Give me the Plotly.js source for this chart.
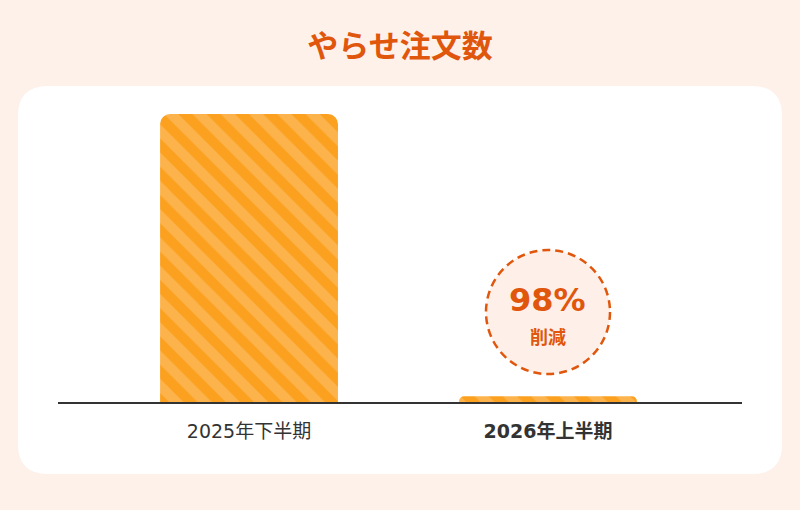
<!DOCTYPE html>
<html>
<head>
<meta charset="utf-8">
<script src="https://cdn.plot.ly/plotly-3.0.1.min.js"></script>
<style>
  html, body { margin: 0; padding: 0; background: #fef1ea; }
  #chart { width: 800px; height: 510px; }
</style>
</head>
<body>
<div id="chart"></div>
<script>
// やらせ注文数 (2025年下半期 = 100 として)
const periods = ["2025年下半期", "2026年上半期"];
const periodLabels = ["2025年下半期", "<b>2026年上半期</b>"];
const orders = [100, 2];
const reduction = "98%";

const ORANGE = "#e0560c";
const MIXED = "DejaVu Sans, Noto Sans CJK JP, sans-serif";

// card corners, in paper units of the plot area (684 x 288 px)
const cx0 = -40 / 684, cx1 = 724 / 684, cy0 = -72 / 288, cy1 = 316 / 288;
const rx = 30 / 684, ry = 30 / 288;
const cardPath =
  `M${cx0 + rx},${cy1} L${cx1 - rx},${cy1} Q${cx1},${cy1} ${cx1},${cy1 - ry} ` +
  `L${cx1},${cy0 + ry} Q${cx1},${cy0} ${cx1 - rx},${cy0} ` +
  `L${cx0 + rx},${cy0} Q${cx0},${cy0} ${cx0},${cy0 + ry} ` +
  `L${cx0},${cy1 - ry} Q${cx0},${cy1} ${cx0 + rx},${cy1} Z`;

const data = [
  {
    type: "bar",
    x: periods,
    y: orders,
    width: 0.595,
    marker: {
      color: "#fba11f",
      cornerradius: 10,
      line: { width: 0 },
      pattern: {
        shape: "\\",
        bgcolor: "#fba11f",
        fgcolor: "#fdb34c",
        size: 20,
        solidity: 0.5,
      },
    },
    hoverinfo: "skip",
  },
];

const layout = {
  width: 800,
  height: 510,
  margin: { l: 58, r: 58, t: 114, b: 108 },
  paper_bgcolor: "#fef1ea",
  plot_bgcolor: "rgba(0,0,0,0)",
  showlegend: false,
  font: { family: "Noto Sans CJK JP, sans-serif", color: "#333" },
  title: {
    text: "<b>やらせ注文数</b>",
    font: { size: 31, color: ORANGE, family: "Noto Sans CJK JP" },
    x: 0.5,
    xanchor: "center",
    y: 0.91,
    yanchor: "middle",
    yref: "container",
  },
  xaxis: {
    type: "category",
    range: [-0.639, 1.649],
    tickvals: periods,
    ticktext: periodLabels,
    tickfont: { size: 19, color: "#333", family: MIXED },
    ticks: "",
    ticklabelstandoff: 11,
    showline: true,
    linecolor: "#333",
    linewidth: 2,
    showgrid: false,
    zeroline: false,
    fixedrange: true,
  },
  yaxis: {
    range: [0, 100],
    visible: false,
    showgrid: false,
    zeroline: false,
    fixedrange: true,
  },
  shapes: [
    {
      type: "path",
      xref: "paper",
      yref: "paper",
      path: cardPath,
      fillcolor: "#ffffff",
      line: { width: 0 },
      layer: "below",
    },
    {
      type: "circle",
      xref: "paper",
      yref: "paper",
      x0: (486 - 58) / 684,
      x1: (610 - 58) / 684,
      y0: (402 - 374) / 288,
      y1: (402 - 250) / 288,
      fillcolor: "#fef0e8",
      line: { color: ORANGE, width: 2.5, dash: "8px,5px" },
      layer: "above",
    },
  ],
  annotations: [
    {
      xref: "x",
      yref: "paper",
      x: periods[1],
      y: (402 - 300) / 288,
      text: `<b>${reduction}</b>`,
      showarrow: false,
      font: { size: 32, color: ORANGE, family: MIXED },
      yanchor: "middle",
    },
    {
      xref: "x",
      yref: "paper",
      x: periods[1],
      y: (402 - 336) / 288,
      text: "<b>削減</b>",
      showarrow: false,
      font: { size: 18, color: ORANGE, family: "Noto Sans CJK JP" },
      yanchor: "middle",
    },
  ],
};

Plotly.newPlot("chart", data, layout, { staticPlot: true, displayModeBar: false });
</script>
</body>
</html>
